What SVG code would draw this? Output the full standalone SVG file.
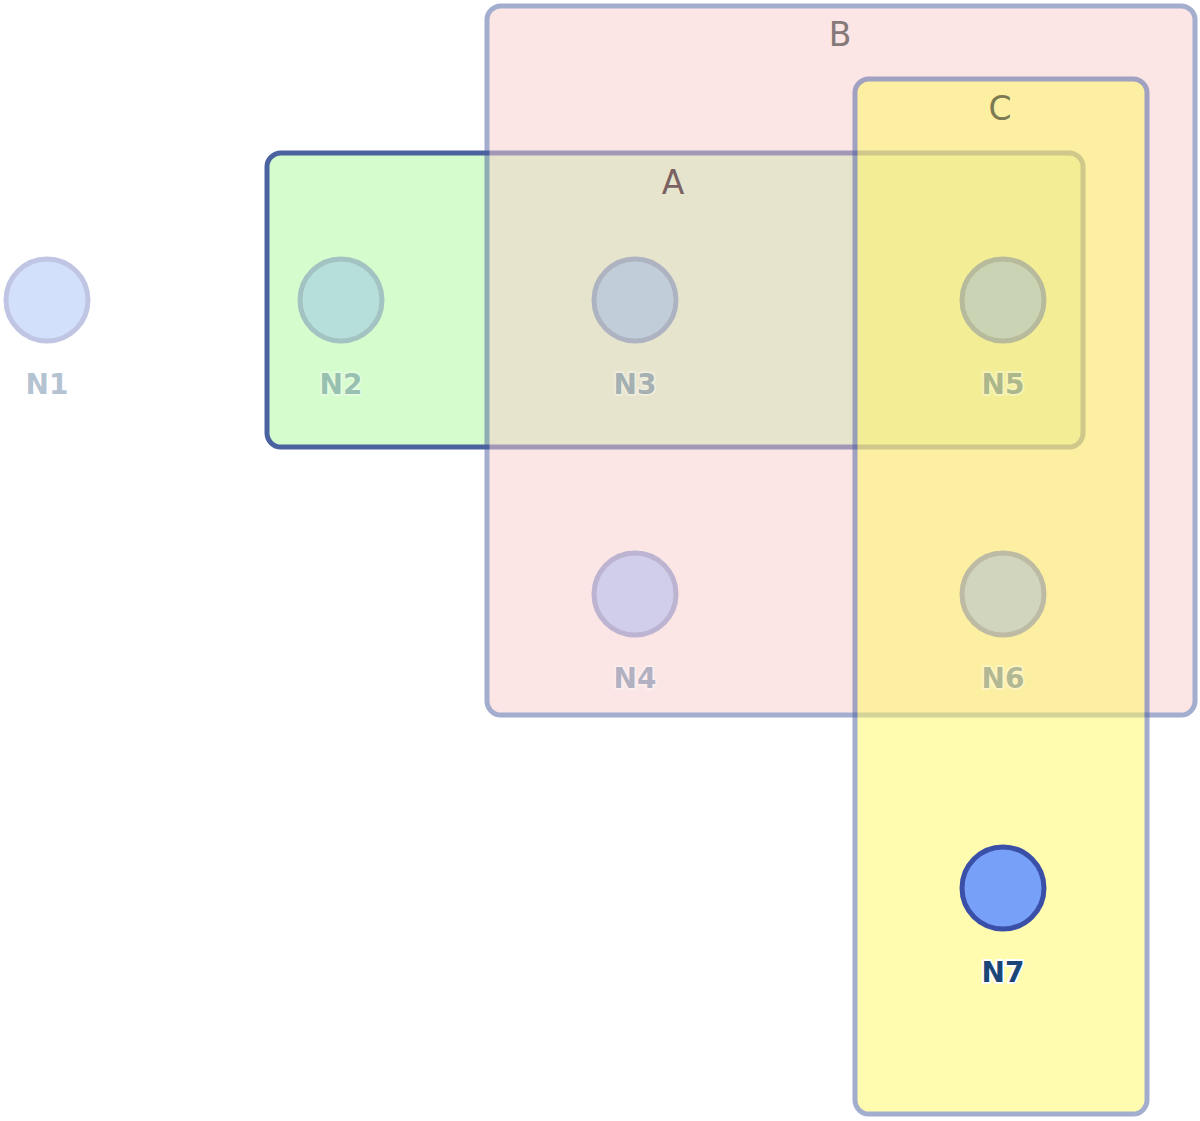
<svg xmlns="http://www.w3.org/2000/svg" width="1200" height="1121" viewBox="0 0 1200 1121">
<style>
.set{stroke-width:5}
.setlbl{font-family:"DejaVu Sans",Verdana,sans-serif;font-size:33px;text-anchor:middle}
.node circle{fill:#77a0f8;stroke:#3a4fa8;stroke-width:5}
.node text{font-family:"DejaVu Sans",Verdana,sans-serif;font-weight:bold;font-size:28px;text-anchor:middle;fill:#1a4677;stroke:#ffffff;stroke-width:4;paint-order:stroke;stroke-linejoin:round}
.dim{opacity:0.32}
</style>
<rect width="1200" height="1121" fill="#ffffff"/>
<g id="sets">
<g id="A"><rect class="set" x="267" y="153" width="816" height="294" rx="14" fill="#d5fccd" stroke="#4a62a0"/></g>
<g id="B" opacity="0.5"><rect class="set" x="487" y="6" width="708" height="709" rx="14" fill="#f9cdcd" stroke="#4a5fa0"/></g>
<g id="C" opacity="0.5"><rect class="set" x="855" y="79" width="292" height="1035" rx="14" fill="#fff961" stroke="#4a5fa0"/></g>
<text class="setlbl" x="840" y="46" fill="#857979">B</text>
<text class="setlbl" x="1000" y="120" fill="#7b7a52">C</text>
<text class="setlbl" x="673" y="194" fill="#7a6262">A</text>
</g>
<g id="connectors"></g>
<g id="N1" class="node dim"><circle cx="47" cy="300" r="41"/><text x="47" y="394">N1</text></g>
<g id="N2" class="node dim"><circle cx="341" cy="300" r="41"/><text x="341" y="394">N2</text></g>
<g id="N3" class="node dim"><circle cx="635" cy="300" r="41"/><text x="635" y="394">N3</text></g>
<g id="N5" class="node dim"><circle cx="1003" cy="300" r="41"/><text x="1003" y="394">N5</text></g>
<g id="N4" class="node dim"><circle cx="635" cy="594" r="41"/><text x="635" y="688">N4</text></g>
<g id="N6" class="node dim"><circle cx="1003" cy="594" r="41"/><text x="1003" y="688">N6</text></g>
<g id="N7" class="node"><circle cx="1003" cy="888" r="41"/><text x="1003" y="982">N7</text></g>
</svg>
